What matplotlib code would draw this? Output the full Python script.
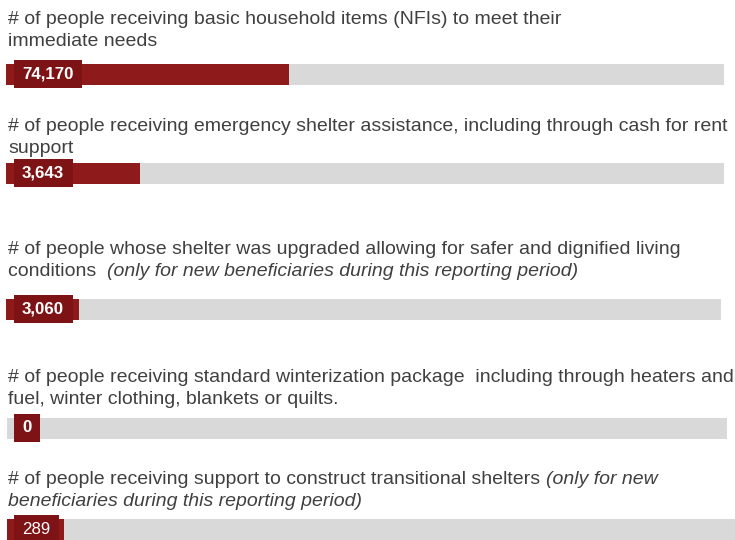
import matplotlib.pyplot as plt
from matplotlib.patches import Rectangle

plt.rcParams['font.family'] = ['Liberation Sans', 'DejaVu Sans']

# indicator texts: (normal part, italic part) per line
labels = [
    [("# of people receiving basic household items (NFIs) to meet their", ""),
     ("immediate needs", "")],
    [("# of people receiving emergency shelter assistance, including through cash for rent", ""),
     ("support", "")],
    [("# of people whose shelter was upgraded allowing for safer and dignified living", ""),
     ("conditions  ", "(only for new beneficiaries during this reporting period)")],
    [("# of people receiving standard winterization package  including through heaters and", ""),
     ("fuel, winter clothing, blankets or quilts.", "")],
    [("# of people receiving support to construct transitional shelters ", "(only for new"),
     ("", "beneficiaries during this reporting period)")],
]
values = ["74,170", "3,643", "3,060", "0", "289"]
progress = [0.394, 0.187, 0.102, 0.0, 0.078]   # share of target reached
bold_value = [True, True, True, True, False]

# layout in pixels
W, H = 735, 540
text_y = [19, 126, 249, 377, 480]
bar_y = [74, 173, 309, 428, 529]
bar_x0 = [6, 6, 6, 7, 7]
bar_x1 = [724, 724, 721, 727, 735]
bar_h = 21

grey = "#d9d9d9"
red = "#8f1a1c"
box_red = "#7d1315"
txt_col = "#404040"

fig = plt.figure(figsize=(W / 100, H / 100), dpi=100)

for i in range(len(values)):
    # label lines
    for j, (normal, ital) in enumerate(labels[i]):
        y = 1 - (text_y[i] + 22 * j) / H
        t = fig.text(8 / W, y, normal, fontsize=14, color=txt_col, va='center', ha='left')
        if ital:
            if normal:
                fig.canvas.draw()
                ext = t.get_window_extent()
                xi = ext.x1 / W
            else:
                xi = 8 / W
            fig.text(xi, y, ital, fontsize=14, color=txt_col, va='center', ha='left',
                     style='italic')

    ax = fig.add_axes([bar_x0[i] / W, 1 - (bar_y[i] + bar_h / 2) / H,
                       (bar_x1[i] - bar_x0[i]) / W, bar_h / H])
    ax.barh(0, 1, height=1, color=grey)
    ax.barh(0, progress[i], height=1, color=red)
    ax.set_xlim(0, 1)
    ax.set_ylim(-0.5, 0.5)
    ax.axis('off')

    vt = fig.text(22 / W, 1 - bar_y[i] / H, values[i], fontsize=12.2, color='white',
                  fontweight='bold' if bold_value[i] else 'normal', va='center', ha='left',
                  zorder=5)
    fig.canvas.draw()
    ext = vt.get_window_extent()
    bx0 = ext.x0 - 8.5
    bw = ext.width + 17
    fig.patches.append(Rectangle((bx0 / W, 1 - (bar_y[i] + 14) / H), bw / W, 28 / H,
                                 transform=fig.transFigure, fc=box_red, ec='none',
                                 zorder=4))

fig.savefig("out.png", dpi=100)
